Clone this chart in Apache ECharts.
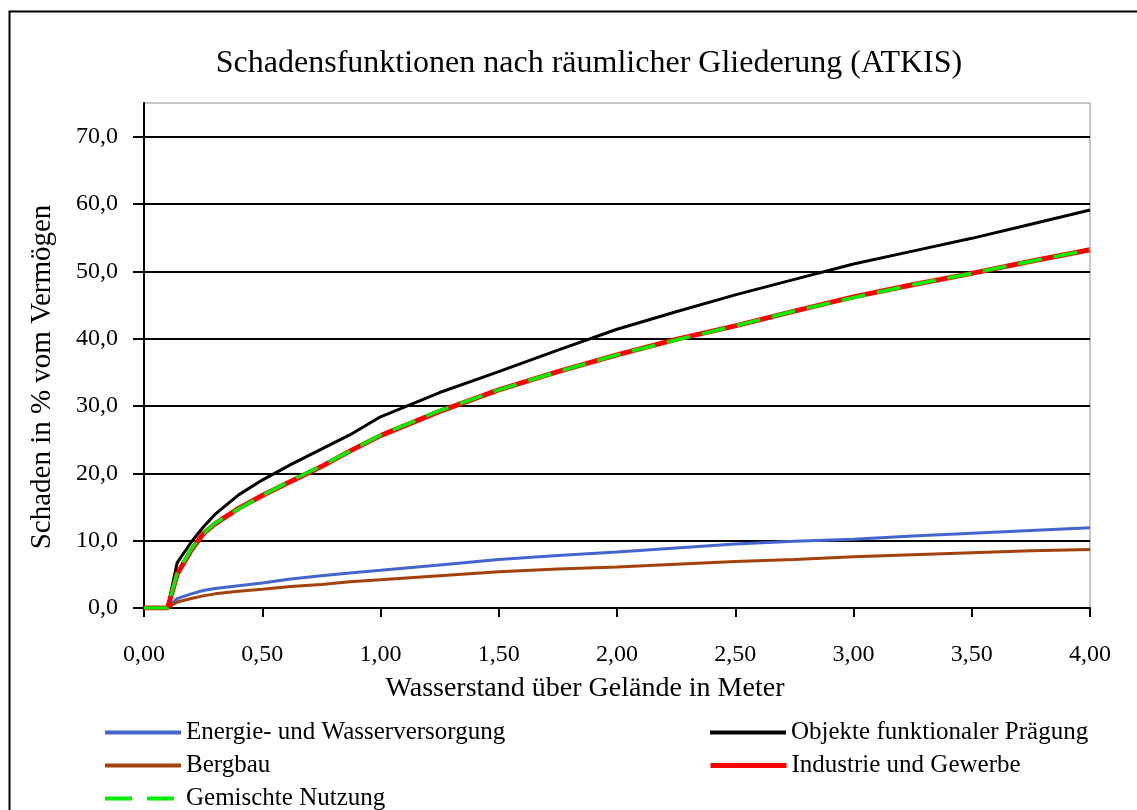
<!DOCTYPE html>
<html>
<head>
<meta charset="utf-8">
<script src="https://cdn.jsdelivr.net/npm/echarts@6/dist/echarts.min.js"></script>
<style>
html,body{margin:0;padding:0;background:#fff;}
#chart{width:1137px;height:810px;}
</style>
</head>
<body>
<div id="chart"></div>
<script>
// Water depth (m) at which values were read
var depth = [0, 0.05, 0.10, 0.14, 0.20, 0.25, 0.30, 0.40, 0.50, 0.62, 0.75, 0.87, 1.00, 1.25, 1.50, 1.75, 2.00, 2.25, 2.50, 2.75, 3.00, 3.25, 3.50, 3.75, 4.00];
// Damage in % of assets
var energie   = [0, 0, 0, 1.4, 2.1, 2.6, 2.9, 3.3, 3.7, 4.3, 4.8, 5.2, 5.6, 6.4, 7.2, 7.8, 8.3, 8.9, 9.5, 9.9, 10.2, 10.7, 11.1, 11.5, 11.9];
var bergbau   = [0, 0, 0, 0.9, 1.4, 1.8, 2.1, 2.5, 2.8, 3.2, 3.5, 3.9, 4.2, 4.8, 5.4, 5.8, 6.1, 6.5, 6.9, 7.2, 7.6, 7.9, 8.2, 8.5, 8.7];
var objekte   = [0, 0, 0, 6.7, 9.8, 12.0, 13.9, 16.8, 19.0, 21.3, 23.6, 25.7, 28.4, 32.0, 35.1, 38.3, 41.4, 44.0, 46.5, 48.8, 51.1, 53.0, 54.9, 57.0, 59.1];
var industrie = [0, 0, 0, 5.0, 8.6, 11.0, 12.5, 14.8, 16.7, 18.8, 21.0, 23.3, 25.6, 29.2, 32.4, 35.1, 37.6, 39.9, 41.9, 44.1, 46.2, 48.0, 49.7, 51.5, 53.2];
var gemischt  = [0, 0, 0, 5.2, 8.8, 11.0, 12.6, 14.7, 16.7, 18.9, 21.1, 23.3, 25.7, 29.3, 32.4, 35.1, 37.6, 39.8, 41.9, 44.1, 46.1, 48.0, 49.7, 51.5, 53.2];

var seriesNames = ['Energie- und Wasserversorgung', 'Bergbau', 'Objekte funktionaler Prägung', 'Industrie und Gewerbe', 'Gemischte Nutzung'];
var seriesColors = ['#4466cc', '#a3420c', '#000000', '#ff0000', '#00f000'];

// Tick labels
var xTickValues = [0, 0.5, 1, 1.5, 2, 2.5, 3, 3.5, 4];
var xTickLabels = ['0,00', '0,50', '1,00', '1,50', '2,00', '2,50', '3,00', '3,50', '4,00'];
var yTickValues = [0, 10, 20, 30, 40, 50, 60, 70];
var yTickLabels = ['0,0', '10,0', '20,0', '30,0', '40,0', '50,0', '60,0', '70,0'];

var FONT = '"Liberation Serif", "Times New Roman", serif';

function pairs(ys) {
  return depth.map(function (x, i) { return [x, ys[i]]; });
}
function lookup(values, labels, v) {
  for (var i = 0; i < values.length; i++) {
    if (Math.abs(values[i] - v) < 1e-9) return labels[i];
  }
  return '';
}

// legend layout: [series index, left, top]
var legendSlots = [[0, 103, 720], [1, 103, 753], [4, 103, 786], [2, 708, 720], [3, 708, 753]];
var legends = legendSlots.map(function (s) {
  var idx = s[0];
  return {
    data: [seriesNames[idx]],
    left: s[1], top: s[2], padding: 0,
    itemWidth: 76, itemHeight: 20,
    itemStyle: {opacity: 0},
    lineStyle: {width: idx === 3 ? 5 : 4, color: seriesColors[idx], type: idx === 4 ? [27, 15] : 'solid'},
    textStyle: {fontFamily: FONT, fontSize: 25, color: '#000', lineHeight: 25}
  };
});

var chart = echarts.init(document.getElementById('chart'), null, {renderer: 'canvas'});
var option = {
  backgroundColor: '#ffffff',
  animation: false,
  title: {
    text: 'Schadensfunktionen nach räumlicher Gliederung (ATKIS)',
    left: 584,
    textAlign: 'center',
    top: 43,
    textStyle: {fontFamily: FONT, fontSize: 32, fontWeight: 'normal', color: '#000'}
  },
  graphic: [{
    type: 'rect',
    shape: {x: 9.5, y: 11.5, width: 1300, height: 1000},
    style: {fill: 'none', stroke: '#000', lineWidth: 2},
    silent: true
  }],
  grid: {
    left: 144, right: 47, top: 103, bottom: 202,
    show: true, borderColor: '#8c8c8c', borderWidth: 1, backgroundColor: 'transparent'
  },
  legend: legends,
  xAxis: {
    type: 'value',
    min: 0, max: 4, interval: 0.5,
    name: 'Wasserstand über Gelände in Meter',
    nameLocation: 'middle',
    nameGap: 67,
    nameTextStyle: {fontFamily: FONT, fontSize: 28, color: '#000', padding: [0, 64, 0, 0]},
    axisLine: {show: true, onZero: false, lineStyle: {color: '#000', width: 2}},
    axisTick: {show: true, length: 9, inside: false, lineStyle: {color: '#000', width: 2}},
    axisLabel: {
      margin: 35,
      fontFamily: FONT, fontSize: 24, color: '#000',
      formatter: function (v) { return lookup(xTickValues, xTickLabels, v); }
    },
    splitLine: {show: false}
  },
  yAxis: {
    type: 'value',
    min: 0, max: 75, interval: 10,
    name: 'Schaden in % vom Vermögen',
    nameLocation: 'middle',
    nameGap: 87,
    nameRotate: 90,
    nameTextStyle: {fontFamily: FONT, fontSize: 29, color: '#000', padding: [0, 43, 0, 0]},
    axisLine: {show: true, lineStyle: {color: '#000', width: 2}},
    axisTick: {show: true, length: 11, inside: false, customValues: yTickValues, lineStyle: {color: '#000', width: 2}},
    axisLabel: {
      margin: 26,
      customValues: yTickValues,
      fontFamily: FONT, fontSize: 24, color: '#000',
      formatter: function (v) { return lookup(yTickValues, yTickLabels, v); }
    },
    splitLine: {show: true, lineStyle: {color: '#000', width: 2}}
  },
  series: [{
    name: seriesNames[0], type: 'line', symbol: 'none', data: pairs(energie),
    lineStyle: {color: seriesColors[0], width: 3}, itemStyle: {color: seriesColors[0]}
  }, {
    name: seriesNames[1], type: 'line', symbol: 'none', data: pairs(bergbau),
    lineStyle: {color: seriesColors[1], width: 3}, itemStyle: {color: seriesColors[1]}
  }, {
    name: seriesNames[2], type: 'line', symbol: 'none', data: pairs(objekte),
    lineStyle: {color: seriesColors[2], width: 3}, itemStyle: {color: seriesColors[2]}
  }, {
    name: seriesNames[3], type: 'line', symbol: 'none', data: pairs(industrie),
    lineStyle: {color: seriesColors[3], width: 5}, itemStyle: {color: seriesColors[3]}
  }, {
    name: seriesNames[4], type: 'line', symbol: 'none', data: pairs(gemischt),
    lineStyle: {color: seriesColors[4], width: 3.5, type: [24, 12]}, itemStyle: {color: seriesColors[4]}
  }]
};
chart.setOption(option);
</script>
</body>
</html>
